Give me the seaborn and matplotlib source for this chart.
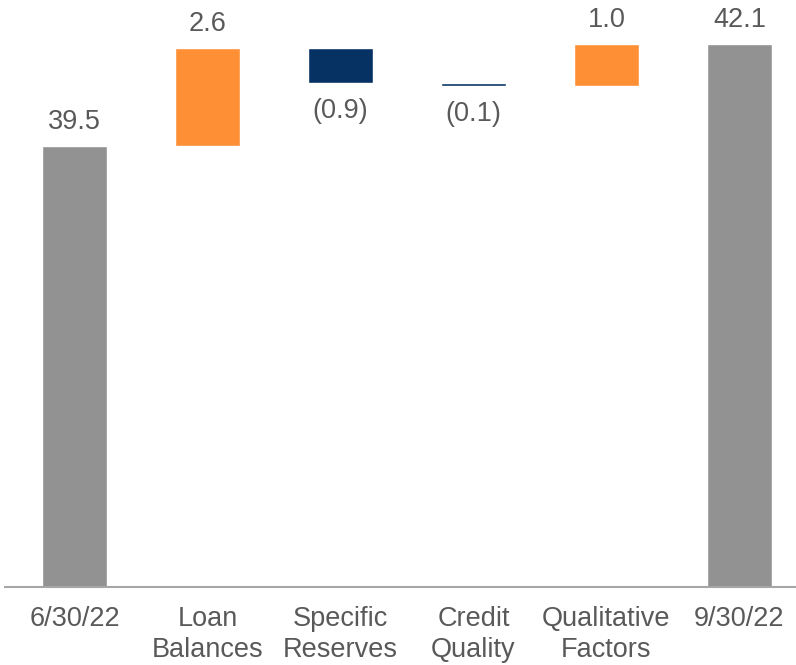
import matplotlib
matplotlib.use("Agg")
import matplotlib.pyplot as plt
import pandas as pd
import seaborn as sns

# Data (bar sizes; printed labels as shown)
steps = ["6/30/22", "Loan\nBalances", "Specific\nReserves", "Credit\nQuality", "Qualitative\nFactors", "9/30/22"]
changes = [39.5, 2.5, -0.9, -0.07, 1.07, 42.1]
value_labels = ["39.5", "2.6", "(0.9)", "(0.1)", "1.0", "42.1"]
is_total = [True, False, False, False, False, True]

GRAY = "#929292"
ORANGE = "#FF8F35"
NAVY = "#063263"
TEXT = "#595959"

# Build waterfall table
rows = []
level = 0.0
for step, val, lab, tot in zip(steps, changes, value_labels, is_total):
    if tot:
        start, end = 0.0, val
        level = val
    else:
        start, end = level, level + val
        level = end
    color = GRAY if tot else (ORANGE if val >= 0 else NAVY)
    rows.append(dict(step=step, start=start, end=end, top=max(start, end),
                     low=min(start, end), color=color, label=lab))
df = pd.DataFrame(rows)

sns.set_theme(style="white")
plt.rcParams["font.family"] = ["Liberation Sans", "DejaVu Sans"]

fig = plt.figure(figsize=(7.96, 6.65), dpi=100)
ax = fig.add_axes([5 / 796, 78 / 665, 791 / 796, 587 / 665])

palette = dict(zip(df["step"], df["color"]))
sns.barplot(data=df, x="step", y="top", hue="step", palette=palette,
            order=steps, width=0.49, saturation=1, legend=False, ax=ax)
# mask the part under floating bars
sns.barplot(data=df, x="step", y="low", color="white", order=steps,
            width=0.5, saturation=1, ax=ax)

for i, r in df.iterrows():
    if r["end"] >= r["start"]:
        ax.annotate(r["label"], (i, r["top"]), xytext=(0, 8), textcoords="offset points",
                    ha="center", va="bottom", fontsize=19.5, color=TEXT)
    else:
        ax.annotate(r["label"], (i, r["low"]), xytext=(0, -11), textcoords="offset points",
                    ha="center", va="top", fontsize=19.5, color=TEXT)

ax.set_ylim(28.26, 43.22)
ax.set_xlim(-0.523, 5.425)
ax.set_xlabel("")
ax.set_ylabel("")
ax.set_yticks([])
ax.tick_params(axis="x", length=0, pad=14, labelsize=19.5, labelcolor=TEXT)
for t in ax.get_xticklabels():
    t.set_linespacing(1.22)
for s in ["top", "right", "left"]:
    ax.spines[s].set_visible(False)
ax.spines["bottom"].set_color("#A6A6A6")
ax.spines["bottom"].set_linewidth(1.5)
ax.spines["bottom"].set_zorder(5)

fig.savefig("out.png", dpi=100)
